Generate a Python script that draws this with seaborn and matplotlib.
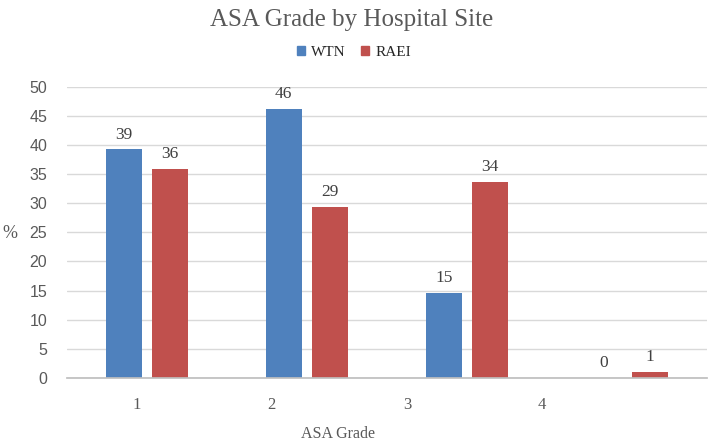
import matplotlib
matplotlib.use("Agg")
import matplotlib.pyplot as plt
import seaborn as sns
import pandas as pd

# data
grades = ["1", "2", "3", "4"]
sites = ["WTN", "RAEI"]
wtn = [39.2, 46.1, 14.6, 0.0]
raei = [35.8, 29.4, 33.6, 1.05]
colors = ["#4F81BD", "#C0504D"]

df = pd.DataFrame({
    "grade": grades * 2,
    "site": [sites[0]] * 4 + [sites[1]] * 4,
    "pct": wtn + raei,
})

sns.set_theme(style="white")
plt.rcParams["font.family"] = ["Liberation Serif", "DejaVu Serif"]

fig = plt.figure(figsize=(7.08, 4.45), dpi=100)
ax = fig.add_axes([0.094, 0.1506, 0.905, 0.655])

sns.barplot(data=df, x="grade", y="pct", hue="site", palette=colors,
            width=0.575, gap=0.22, ax=ax, legend=False, saturation=1,
            linewidth=0)

for cont in ax.containers:
    labels = [f"{v:.0f}" for v in cont.datavalues]
    ax.bar_label(cont, labels=labels, padding=5, fontsize=12.5, color="#404040")

ax.set_ylim(0, 50)
ax.set_xlim(-0.5, 3.5)
ax.set_yticks(range(0, 51, 5))
ax.yaxis.grid(True, color="#D9D9D9", linewidth=1)
ax.set_axisbelow(True)
for s in ["left", "right", "top"]:
    ax.spines[s].set_visible(False)
ax.spines["bottom"].set_color("#BFBFBF")

for t in ax.get_yticklabels():
    t.set_family(["Liberation Sans", "DejaVu Sans"])
    t.set_fontsize(11.5)
    t.set_color("#595959")
ax.tick_params(axis="y", pad=14, length=0)

# category labels sit left of the bar groups in the reference
ax.set_xticks([-0.06, 0.78, 1.63, 2.47])
ax.set_xticklabels(grades, fontsize=12, color="#595959")
ax.tick_params(axis="x", pad=14, length=0)

ax.set_xlabel("ASA Grade", fontsize=11.5, color="#595959", va="center")
ax.xaxis.set_label_coords(0.424, -0.192)
ax.set_ylabel("%", fontsize=13, color="#595959", rotation=0, va="center", ha="center")
ax.yaxis.set_label_coords(-0.089, 0.497)

fig.text(0.497, 0.955, "ASA Grade by Hospital Site", ha="center", va="center",
         fontsize=18, color="#595959")

handles = [plt.Rectangle((0, 0), 1, 1, color=c) for c in colors]
fig.legend(handles, sites, loc="center", bbox_to_anchor=(0.5, 0.882), ncol=2,
           frameon=False, fontsize=11, handlelength=0.55, handleheight=0.55,
           handletextpad=0.4, columnspacing=1.0)

fig.savefig("out.png", dpi=100)
